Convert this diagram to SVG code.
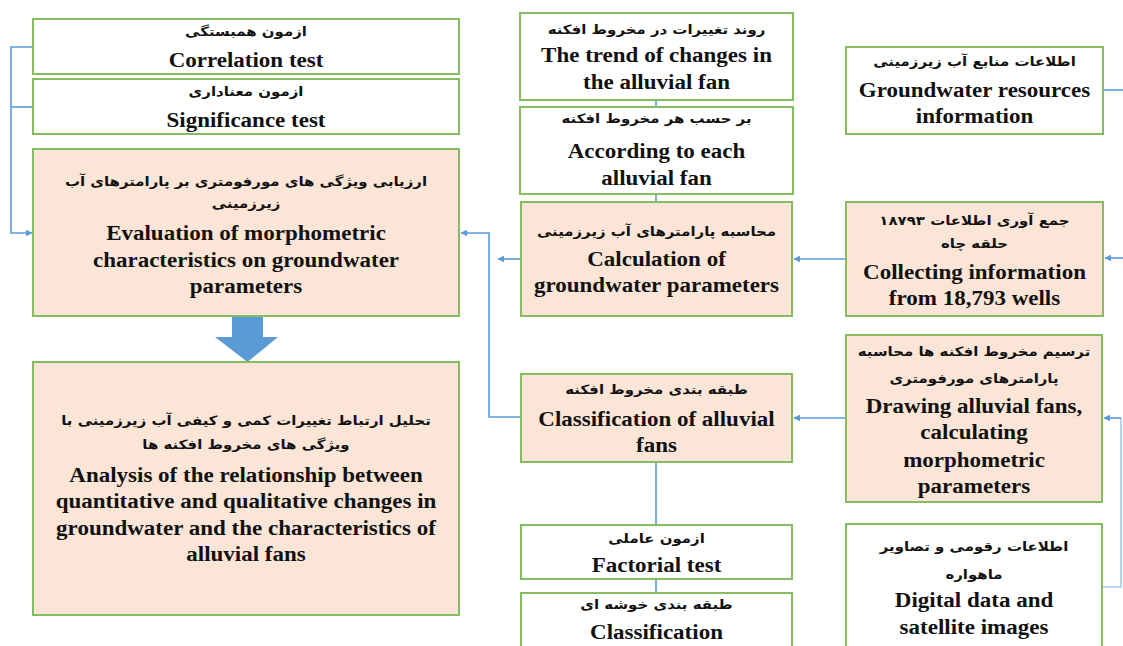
<svg xmlns="http://www.w3.org/2000/svg" width="1123" height="646" viewBox="0 0 1123 646">
<defs>
<style>
.box{fill:#ffffff;stroke:#84bc5f;stroke-width:2}
.hl{fill:#fbe5d6;stroke:#84bc5f;stroke-width:2}
.en{font-family:"Liberation Serif","Times New Roman",serif;font-weight:bold;font-size:20px;fill:#111;text-anchor:middle}
.fa{font-family:"DejaVu Sans",sans-serif;font-weight:bold;font-size:13px;fill:#111;text-anchor:middle}
.ln{fill:none;stroke:#5b9bd5;stroke-width:1.6}
.pale{fill:none;stroke:#a9c9ea;stroke-width:1.6}
</style>
<marker id="ah" viewBox="0 0 10 10" refX="9" refY="5" markerWidth="7" markerHeight="7" orient="auto" markerUnits="userSpaceOnUse">
<path d="M0,0 L10,5 L0,10 z" fill="#5b9bd5"/>
</marker>
</defs>
<rect width="1123" height="646" fill="#ffffff"/>

<g id="connectors">
<path class="ln" d="M33,47 H11 V233 H32" marker-end="url(#ah)"/>
<path class="ln" d="M11,107 H35"/>
<path class="ln" d="M521,417 H489 V233 H461" marker-end="url(#ah)"/>
<path class="ln" d="M521,259 H498" marker-end="url(#ah)"/>
<path class="ln" d="M656,100 V107 M656,194 V202 M656,462 V525 M656,579 V593"/>
<path class="ln" d="M846,259 H794" marker-end="url(#ah)"/>
<path class="ln" d="M846,418 H794" marker-end="url(#ah)"/>
<path class="ln" d="M1103,90 H1123"/>
<path class="ln" d="M1123,258 H1105" marker-end="url(#ah)"/>
<path class="pale" d="M1102,587 H1121 V418"/>
<path class="ln" d="M1121,418 H1104" marker-end="url(#ah)"/>
<path d="M232,316 H263 V337 H278 L247.5,362 L215,337 H232 Z" fill="#5b9bd5"/>
</g>

<g id="correlation">
<rect class="box" x="33" y="19" width="426" height="55"/>
<g transform="translate(246,0) scale(1.15,1)">
<text class="fa" x="0" y="36">ازمون همبستگی</text>
<text class="en" x="0" y="67">Correlation test</text>
</g>
</g>

<g id="significance">
<rect class="box" x="33" y="79" width="426" height="55"/>
<g transform="translate(246,0) scale(1.15,1)">
<text class="fa" x="0" y="96">ازمون معناداری</text>
<text class="en" x="0" y="127">Significance test</text>
</g>
</g>

<g id="evaluation">
<rect class="hl" x="33" y="149" width="426" height="167"/>
<g transform="translate(246,0) scale(1.15,1)">
<text class="fa" x="0" y="186">ارزیابی ویژگی های مورفومتری بر پارامترهای آب</text>
<text class="fa" x="0" y="208">زیرزمینی</text>
<text class="en" x="0" y="240">Evaluation of morphometric</text>
<text class="en" x="0" y="267">characteristics on groundwater</text>
<text class="en" x="0" y="293">parameters</text>
</g>
</g>

<g id="analysis">
<rect class="hl" x="33" y="362" width="426" height="253"/>
<g transform="translate(246,0) scale(1.15,1)">
<text class="fa" x="0" y="425">تحلیل ارتباط تغییرات کمی و کیفی آب زیرزمینی با</text>
<text class="fa" x="0" y="449">ویژگی  های مخروط افکنه ها</text>
<text class="en" x="0" y="482">Analysis of the relationship between</text>
<text class="en" x="0" y="508">quantitative and qualitative changes in</text>
<text class="en" x="0" y="535">groundwater and the characteristics of</text>
<text class="en" x="0" y="561">alluvial fans</text>
</g>
</g>

<g id="trend">
<rect class="box" x="520" y="13" width="273" height="87"/>
<g transform="translate(656.5,0) scale(1.15,1)">
<text class="fa" x="0" y="34">روند تغییرات در مخروط افکنه</text>
<text class="en" x="0" y="62">The trend of changes in</text>
<text class="en" x="0" y="89">the alluvial fan</text>
</g>
</g>

<g id="according">
<rect class="box" x="520" y="107" width="273" height="87"/>
<g transform="translate(656.5,0) scale(1.15,1)">
<text class="fa" x="0" y="123">بر حسب هر مخروط افکنه</text>
<text class="en" x="0" y="158">According to each</text>
<text class="en" x="0" y="185">alluvial fan</text>
</g>
</g>

<g id="calculation">
<rect class="hl" x="521" y="202" width="271" height="114"/>
<g transform="translate(656.5,0) scale(1.15,1)">
<text class="fa" x="0" y="236">محاسبه پارامترهای آب زیرزمینی</text>
<text class="en" x="0" y="266">Calculation of</text>
<text class="en" x="0" y="292">groundwater parameters</text>
</g>
</g>

<g id="classification-fans">
<rect class="hl" x="521" y="374" width="271" height="88"/>
<g transform="translate(656.5,0) scale(1.15,1)">
<text class="fa" x="0" y="394">طبقه بندی مخروط افکنه</text>
<text class="en" x="0" y="426">Classification of alluvial</text>
<text class="en" x="0" y="452">fans</text>
</g>
</g>

<g id="factorial">
<rect class="box" x="521" y="525" width="271" height="54"/>
<g transform="translate(656.5,0) scale(1.15,1)">
<text class="fa" x="0" y="543">ازمون عاملی</text>
<text class="en" x="0" y="572">Factorial test</text>
</g>
</g>

<g id="cluster">
<rect class="box" x="521" y="593" width="271" height="70"/>
<g transform="translate(656.5,0) scale(1.15,1)">
<text class="fa" x="0" y="609">طبقه بندی خوشه ای</text>
<text class="en" x="0" y="639">Classification</text>
</g>
</g>

<g id="groundwater-info">
<rect class="box" x="846" y="47" width="257" height="87"/>
<g transform="translate(974.5,0) scale(1.15,1)">
<text class="fa" x="0" y="66">اطلاعات منابع آب زیرزمینی</text>
<text class="en" x="0" y="97">Groundwater resources</text>
<text class="en" x="0" y="123">information</text>
</g>
</g>

<g id="collecting">
<rect class="hl" x="846" y="202" width="257" height="114"/>
<g transform="translate(974.5,0) scale(1.15,1)">
<text class="fa" x="0" y="225">جمع آوری اطلاعات ۱۸۷۹۳</text>
<text class="fa" x="0" y="248">حلقه چاه</text>
<text class="en" x="0" y="279">Collecting information</text>
<text class="en" x="0" y="305">from 18,793 wells</text>
</g>
</g>

<g id="drawing">
<rect class="hl" x="846" y="335" width="256" height="167"/>
<g transform="translate(974,0) scale(1.15,1)">
<text class="fa" x="0" y="356">ترسیم مخروط افکنه ها محاسبه</text>
<text class="fa" x="0" y="383">پارامترهای مورفومتری</text>
<text class="en" x="0" y="413">Drawing alluvial fans,</text>
<text class="en" x="0" y="439">calculating</text>
<text class="en" x="0" y="467">morphometric</text>
<text class="en" x="0" y="493">parameters</text>
</g>
</g>

<g id="digital">
<rect class="box" x="846" y="524" width="256" height="140"/>
<g transform="translate(974,0) scale(1.15,1)">
<text class="fa" x="0" y="551">اطلاعات رقومی و تصاویر</text>
<text class="fa" x="0" y="579">ماهواره</text>
<text class="en" x="0" y="607">Digital data and</text>
<text class="en" x="0" y="634">satellite images</text>
</g>
</g>
</svg>
